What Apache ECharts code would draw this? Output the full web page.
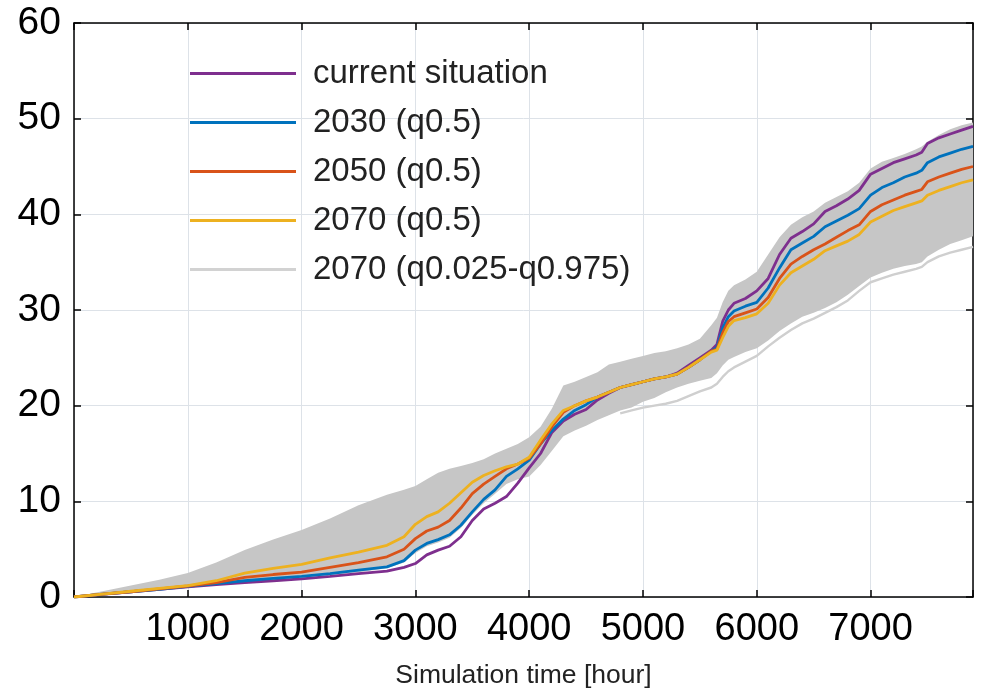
<!DOCTYPE html>
<html><head><meta charset="utf-8">
<script src="https://cdn.jsdelivr.net/npm/echarts@6/dist/echarts.min.js"></script>
<style>html,body{margin:0;padding:0;background:#fff}#c{width:1005px;height:694px}</style>
</head><body><div id="c"></div>
<script>
// Simulation time [hour]
const hours = [0,250,500,750,1000,1250,1500,1750,2000,2250,2500,2750,
  2900,
  3000,3100,3200,3300,3400,3500,3600,3700,3800,3900,4000,4100,4200,4300,4400,4500,4600,4700,4800,4900,5000,5100,5200,5300,5400,5500,5600,
  5650,5700,5750,5800,
  5900,6000,6100,6200,6300,6400,6500,6600,6700,6800,6900,7000,7100,7200,7300,7400,
  7450,
  7500,7600,7700,7800,7900];

const currentSituation = [0,0.28,0.55,0.8,1.05,1.3,1.5,1.7,1.9,2.15,2.45,2.7,
  3.1,
  3.5,4.4,4.9,5.3,6.3,8.0,9.2,9.8,10.5,11.9,13.5,15.0,17.2,18.4,19.1,19.6,20.6,21.3,21.9,22.2,22.5,22.8,23.0,23.4,24.2,25.0,25.8,
  26.4,28.8,30.0,30.7,
  31.2,32.0,33.3,35.8,37.5,38.2,39.0,40.3,40.9,41.6,42.5,44.2,44.8,45.4,45.8,46.2,
  46.5,
  47.4,48.0,48.4,48.8,49.2];

const q50_2030 = [0,0.3,0.55,0.8,1.1,1.4,1.7,1.95,2.15,2.45,2.8,3.15,
  3.8,
  4.9,5.6,6.0,6.5,7.5,8.9,10.2,11.2,12.6,13.4,14.3,16.0,17.4,18.6,19.5,20.1,20.9,21.4,21.9,22.2,22.5,22.8,23.0,23.3,24.0,24.8,25.7,
  26.1,28.1,29.3,29.9,
  30.4,30.8,32.3,34.4,36.3,37.0,37.7,38.7,39.3,39.9,40.6,42.0,42.8,43.3,43.9,44.3,
  44.6,
  45.4,46.0,46.4,46.8,47.1];

const q50_2050 = [0,0.3,0.55,0.85,1.15,1.5,2.05,2.35,2.6,3.1,3.6,4.2,
  5.0,
  6.1,6.9,7.3,8.0,9.3,10.8,11.8,12.6,13.4,13.9,14.5,16.0,17.8,19.3,20.0,20.5,20.9,21.4,21.9,22.2,22.5,22.8,23.0,23.3,24.0,24.8,25.7,
  25.9,27.6,28.8,29.3,
  29.7,30.1,31.3,33.3,34.8,35.6,36.3,36.9,37.6,38.3,38.9,40.3,41.0,41.5,42.0,42.4,
  42.6,
  43.4,43.9,44.3,44.7,45.0];

const q50_2070 = [0,0.3,0.6,0.9,1.2,1.7,2.5,3.0,3.4,4.1,4.7,5.4,
  6.3,
  7.6,8.4,8.9,9.8,10.9,12.0,12.7,13.2,13.6,13.9,14.6,16.4,18.1,19.5,20.0,20.5,20.9,21.4,21.9,22.2,22.5,22.8,23.0,23.3,24.0,24.8,25.6,
  25.8,27.1,28.3,28.9,
  29.2,29.6,30.7,32.6,33.9,34.6,35.3,36.2,36.7,37.2,37.9,39.2,39.8,40.4,40.8,41.2,
  41.4,
  42.0,42.5,42.9,43.3,43.6];

// 2070 spread band (upper / lower edge of the grey envelope)
const band2070Upper = [0,0.6,1.2,1.8,2.5,3.6,4.9,6.0,7.0,8.2,9.6,10.7,
  11.2,
  11.6,12.3,13.0,13.4,13.7,14.0,14.4,15.0,15.5,16.0,16.7,17.8,19.7,22.1,22.5,23.0,23.5,24.3,24.6,24.9,25.2,25.5,25.7,26.0,26.4,27.0,28.4,
  29.2,30.8,32.0,32.6,
  33.2,34.0,35.8,37.6,38.9,39.7,40.3,41.2,41.8,42.4,43.3,44.8,45.5,45.9,46.3,46.8,
  47.1,
  47.6,48.3,48.9,49.3,49.6];

const band2070Lower = [0,0.28,0.55,0.8,1.05,1.35,1.6,1.85,2.05,2.3,2.6,3.0,
  3.6,
  4.6,5.3,5.7,6.2,7.2,8.6,9.8,10.8,11.8,12.3,12.6,13.8,15.3,16.8,17.4,17.9,18.5,19.0,19.5,19.8,20.4,20.8,21.4,21.9,22.3,22.6,22.9,
  23.4,24.2,24.8,25.1,
  25.6,26.0,26.8,27.8,28.6,29.3,29.7,30.2,30.8,31.6,32.5,33.4,33.9,34.3,34.6,34.8,
  35.0,
  35.6,36.3,36.9,37.3,37.7];

// lowest quantile trace, visible separately from 4800 h on
const q025Hours = [4800,4900,5000,5100,5200,5300,5400,5500,5600,5650,5700,5750,5800,5900,6000,6100,6200,6300,6400,6500,6600,6700,6800,6900,7000,7100,7200,7300,7400,7450,7500,7600,7700,7800,7900];
const q025_2070 = [19.2,19.5,19.8,20.0,20.2,20.5,21.0,21.5,21.9,22.3,23.0,23.6,24.0,24.6,25.2,26.2,27.1,27.9,28.6,29.1,29.7,30.3,31.0,32.0,32.9,33.3,33.7,34.0,34.3,34.5,35.0,35.6,36.0,36.3,36.6];

const seriesNames = ['current situation','2030 (q0.5)','2050 (q0.5)','2070 (q0.5)','2070 (q0.025-q0.975)'];
const seriesColors = ['#7E2F8E','#0072BD','#D95319','#EDB120','#d2d2d2'];
const xTickStep = 1000, xMax = 7900;
const yTickStep = 10, yMax = 60;

const pair = (xs, ys) => xs.map((x, i) => [x, ys[i]]);
const FONT = '"Liberation Sans", Arial, Helvetica, sans-serif';

const lineSeries = (name, color, ys) => ({
  name, type: 'line', data: pair(hours, ys), symbol: 'none', smooth: false,
  color, itemStyle: {color}, lineStyle: {color, width: 2.8}, z: 5, animation: false
});

const chart = echarts.init(document.getElementById('c'), null, {renderer: 'canvas'});
chart.setOption({
  backgroundColor: '#ffffff',
  animation: false,
  grid: {left: 74, right: 32, top: 23, bottom: 96, containLabel: false},
  legend: {
    data: seriesNames.map(n => ({name: n})),
    orient: 'vertical', left: 190, top: 57, padding: 0,
    icon: 'rect', itemWidth: 106, itemHeight: 3, itemGap: 16,
    textStyle: {fontFamily: FONT, fontSize: 33, color: '#222', lineHeight: 33, padding: [0, 0, 0, 12]},
    selectedMode: false
  },
  xAxis: [{
    type: 'value', min: 0, max: xMax, interval: xTickStep, position: 'bottom',
    name: 'Simulation time [hour]', nameLocation: 'middle', nameGap: 65,
    nameTextStyle: {fontFamily: FONT, fontSize: 26.5, color: '#222'},
    axisLine: {show: true, onZero: false, lineStyle: {color: '#000', width: 1.5}},
    axisTick: {show: true, inside: true, length: 7, lineStyle: {color: '#000', width: 1.5}},
    axisLabel: {fontFamily: FONT, fontSize: 38, color: '#000', margin: 14,
      formatter: v => (v > 0 && v % xTickStep === 0) ? String(v) : ''},
    splitLine: {show: true, lineStyle: {color: '#dde2e8', width: 1}}
  }, {
    type: 'value', min: 0, max: xMax, interval: xTickStep, position: 'top',
    axisLine: {show: true, onZero: false, lineStyle: {color: '#000', width: 1.5}},
    axisTick: {show: true, inside: true, length: 7, lineStyle: {color: '#000', width: 1.5}},
    axisLabel: {show: false}, splitLine: {show: false}
  }],
  yAxis: [{
    type: 'value', min: 0, max: yMax, interval: yTickStep, position: 'left',
    axisLine: {show: true, onZero: false, lineStyle: {color: '#000', width: 1.5}},
    axisTick: {show: true, inside: true, length: 7, lineStyle: {color: '#000', width: 1.5}},
    axisLabel: {fontFamily: FONT, fontSize: 39, color: '#000', margin: 13},
    splitLine: {show: true, lineStyle: {color: '#dde2e8', width: 1}}
  }, {
    type: 'value', min: 0, max: yMax, interval: yTickStep, position: 'right',
    axisLine: {show: true, onZero: false, lineStyle: {color: '#000', width: 1.5}},
    axisTick: {show: true, inside: true, length: 7, lineStyle: {color: '#000', width: 1.5}},
    axisLabel: {show: false}, splitLine: {show: false}
  }],
  series: [
    {
      name: seriesNames[4], type: 'custom', coordinateSystem: 'cartesian2d',
      data: hours.map((h, i) => [h, band2070Lower[i], band2070Upper[i]]),
      encode: {x: 0, y: [1, 2]},
      color: seriesColors[4], itemStyle: {color: seriesColors[4]}, z: 2, silent: true,
      renderItem: (params, api) => {
        if (params.dataIndex !== 0) return;
        const pts = [];
        for (let i = 0; i < hours.length; i++) pts.push(api.coord([hours[i], band2070Upper[i]]));
        for (let i = hours.length - 1; i >= 0; i--) pts.push(api.coord([hours[i], band2070Lower[i]]));
        return {type: 'polygon', shape: {points: pts}, style: {fill: '#c6c6c6', stroke: null}};
      }
    },
    {name: 'q025', type: 'line', data: pair(q025Hours, q025_2070), symbol: 'none',
     color: '#cfcfcf', lineStyle: {color: '#cfcfcf', width: 2.4}, z: 3},
    lineSeries(seriesNames[0], seriesColors[0], currentSituation),
    lineSeries(seriesNames[1], seriesColors[1], q50_2030),
    lineSeries(seriesNames[2], seriesColors[2], q50_2050),
    lineSeries(seriesNames[3], seriesColors[3], q50_2070)
  ]
});
</script>
</body></html>
